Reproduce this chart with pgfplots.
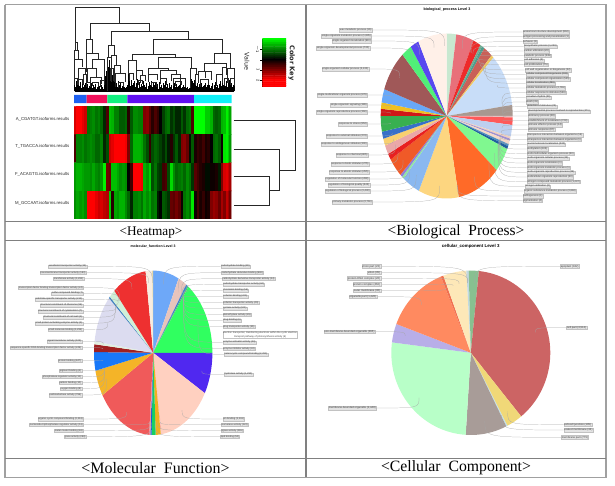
\documentclass[border=0pt]{standalone}
\usepackage{fontspec}
\usepackage{pgfplots}
\pgfplotsset{compat=1.18}
\setmainfont{Liberation Sans}
\newfontfamily\serifT{Liberation Serif}
\newfontfamily\djv{DejaVu Sans}
\definecolor{framegray}{HTML}{A0A0A0}
\definecolor{ruleg}{HTML}{808080}
\pgfplotsset{
 gkr/.style={colormap={gkr}{rgb255=(0,255,0) rgb255=(0,0,0) rgb255=(255,0,0)},point meta min=-2,point meta max=2},
 pieaxis/.style={scale only axis,hide axis,clip=false,xmin=-1,xmax=1,ymin=-1,ymax=1,anchor=center}
}
% one wedge of a pie: start angle, end angle (degrees clockwise from the top), colour
\newcommand\sector[3]{%
 \definecolor{c#3}{HTML}{#3}%
 \gdef\pts{(0,0)}%
 \pgfmathtruncatemacro\nn{max(1,ceil((#2-#1)/3))}%
 \foreach \kk in {0,...,\nn}{%
  \pgfmathsetmacro\secA{#1+(#2-#1)*\kk/\nn}%
  \pgfmathsetmacro\spx{sin(\secA)}\pgfmathsetmacro\spy{cos(\secA)}%
  \xdef\pts{\pts (\spx,\spy)}}%
 \edef\tmp{\noexpand\addplot[fill=c#3,draw=none,forget plot] coordinates {\pts (0,0)};}%
 \tmp}
% one link of a dendrogram: x1, x2, top, height of left leg, height of right leg
\newcommand\DU[5]{\addplot[black!85,line width=.42bp,forget plot] coordinates {(#1,#4)(#1,#3)(#2,#3)(#2,#5)};}
\newcommand\Seg[3]{\addplot[fill=#3,draw=none,forget plot] coordinates {(#1,95)(#2,95)(#2,103.2)(#1,103.2)(#1,95)};}
\newcommand\Ln[4]{\addplot[ruleg,line width=1.1bp,forget plot] coordinates {(#1,#2)(#3,#4)};}
\newcommand\Lk[1]{\addplot[black!85,line width=.5bp,forget plot] coordinates {#1};}
\tikzset{lab/.style={font=\fontsize{2.6}{3}\selectfont,fill=black!11,draw=black!24,line width=.15bp,inner sep=.45bp,text=black!75},
 leader/.style={draw=black!35,line width=.22bp}}
\newcommand\lab[5]{\draw[leader] (#2,#3) .. controls ({\cx+\rx*.85*sin(#4)},#3) .. ({\cx+\rx*.85*sin(#4)},{\cy-\ry*.85*cos(#4)});\node[lab,anchor=#1] at (#2,#3) {#5};}
\begin{document}
\begin{tikzpicture}
\path (0,0) rectangle (615bp,486bp);
% frame, colour strip and row dendrogram, in pixel units
\begin{axis}[at={(0,0)},anchor=south west,scale only axis,width=615bp,height=486bp,hide axis,clip=false,xmin=0,xmax=615,ymin=0,ymax=486,y dir=reverse]
\definecolor{sa}{HTML}{1E60F0}\definecolor{sb}{HTML}{F0105A}\definecolor{sc}{HTML}{10F080}\definecolor{sd}{HTML}{6010F0}\definecolor{se}{HTML}{10F0F8}
\Seg{74}{86.5}{sa}\Seg{86.5}{107.3}{sb}\Seg{107.3}{127.3}{sc}\Seg{127.3}{194}{sd}\Seg{194}{231.5}{se}
\Lk{(233.5,120.7)(295.7,120.7)(295.7,170)(279.3,170)}
\Lk{(233.5,149)(279.3,149)(279.3,190.7)(269.3,190.7)}
\Lk{(233.5,176.7)(269.3,176.7)(269.3,205)(233.5,205)}
\addplot[framegray,line width=1.5bp,forget plot] coordinates {(5,4.7)(605.8,4.7)(605.8,477.3)(5,477.3)(5,4.7)};
\Ln{306}{4.7}{306}{477.3}
\Ln{5}{221.6}{605.8}{221.6}
\Ln{5}{240.2}{605.8}{240.2}
\Ln{5}{458.3}{605.8}{458.3}
\end{axis}
% heatmap
\begin{axis}[at={(74bp,267bp)},anchor=south west,scale only axis,width=157.5bp,height=112.5bp,hide axis,xmin=-0.5,xmax=58.5,ymin=-0.5,ymax=3.5,y dir=reverse,gkr]
\addplot[matrix plot*,mesh/cols=59,mesh/ordering=x varies,point meta=explicit] table[header=false,row sep=\\,x expr={\coordindex-59*floor((\coordindex+0.5)/59)},y expr={floor((\coordindex+0.5)/59)},meta index=0] {
1.7\\2\\2\\1.8\\1.6\\-0.9\\-1\\-1.1\\-0.9\\-1\\-0.8\\-0.3\\0.6\\-1.5\\-1.4\\-1\\-1\\-0.7\\-0.7\\-0.8\\0.3\\-0.7\\-1.1\\-1.1\\-1\\-1\\1\\1.1\\0.7\\0.3\\0.6\\0.4\\0\\-0.5\\-0.8\\-0.9\\-0.4\\-0.6\\-0.3\\-0.3\\-0.7\\-0.4\\-0.8\\-0.9\\0.6\\-2\\-2\\-2\\-2\\-1.6\\-1.6\\-1.4\\-0.8\\-0.7\\-0.8\\-1.4\\-1.5\\-1.9\\-1.3\\
0.6\\-1\\-1\\-1.1\\-0.9\\-1\\-1.1\\-1\\-0.8\\-0.8\\-1\\-0.3\\-0.6\\1.6\\1.8\\2\\2\\2\\2\\1.9\\1\\-0.8\\-1.4\\-1.4\\-1.4\\-1.3\\-0.9\\-0.6\\0.4\\-0.6\\-0.8\\-0.7\\-0.5\\-0.3\\-0.6\\-0.2\\0.3\\-0.4\\-0.7\\-0.3\\1\\1.1\\0.8\\-0.1\\-0.7\\0.2\\0.4\\0.3\\0.5\\0.2\\0.3\\0\\-0.8\\-0.9\\-0.7\\0.1\\-1.8\\-1.9\\-1.2\\
-1.2\\-1.4\\-1.4\\-1.3\\-1.2\\-1.2\\-1.1\\-1.3\\-1.1\\-1\\-1.2\\-1.9\\0.9\\0.8\\-1.5\\-1.5\\-1.3\\-1.1\\-1.2\\-1.1\\0\\0.5\\2\\2\\2\\1.9\\-1.4\\-1.2\\-1.6\\-0.6\\-0.9\\-0.5\\-0.4\\0.5\\0.6\\-0.6\\-1.7\\-1.1\\-0.8\\-0.9\\-1\\-0.8\\-1.1\\-0.9\\-0.4\\0.7\\0.5\\0.3\\0.2\\-0.1\\-0.1\\0.1\\0.1\\0.2\\-0.2\\1\\1.7\\1.8\\1.3\\
-1.1\\-1.3\\-1.2\\-1.3\\-1.1\\2\\2\\2\\1.8\\1.6\\1.7\\1.5\\1.4\\-1.6\\0.3\\-1.3\\-1.2\\-1.4\\-1.4\\-1.1\\-0.8\\-0.3\\-1\\-1\\-1.1\\-0.9\\-1.3\\-1.1\\-1.3\\-0.9\\-1\\-0.2\\0\\-0.7\\-0.6\\-0.4\\0.8\\0.7\\0.9\\0.7\\0.1\\-0.9\\-1.1\\-0.9\\-1.8\\0.1\\0.5\\0.2\\0.4\\0.1\\0.2\\1\\1.2\\1.1\\0.8\\1.3\\1\\1.5\\0.9\\
};
\end{axis}
% colour key
\begin{axis}[at={(262.3bp,399.3bp)},anchor=south west,scale only axis,width=23.7bp,height=47.7bp,axis x line=none,axis y line=left,axis line style={-,black,line width=.3bp},tick style={black,line width=.3bp},tick align=outside,major tick length=2bp,xmin=0,xmax=1,ymin=-2,ymax=2.6,y dir=reverse,gkr,ytick={-1,0,1,2},yticklabels={$-$1,,1,2},yticklabel style={rotate=-90,font=\fontsize{4}{4}\selectfont,inner sep=.6bp}]
\addplot[matrix plot*,mesh/cols=2,mesh/ordering=x varies,point meta=explicit] table[header=false,row sep=\\,x expr={\coordindex-2*floor((\coordindex+0.5)/2)},y index=0,meta index=0] {
-2\\-2\\-1.8\\-1.8\\-1.6\\-1.6\\-1.4\\-1.4\\-1.2\\-1.2\\-1\\-1\\-0.8\\-0.8\\-0.6\\-0.6\\-0.4\\-0.4\\-0.2\\-0.2\\0\\0\\0.2\\0.2\\0.4\\0.4\\0.6\\0.6\\0.8\\0.8\\1\\1\\1.2\\1.2\\1.4\\1.4\\1.6\\1.6\\1.8\\1.8\\2\\2\\2.2\\2.2\\2.4\\2.4\\2.6\\2.6\\
};
\end{axis}
% column dendrogram
\begin{axis}[at={(70bp,394.7bp)},anchor=south west,scale only axis,width=165bp,height=89.3bp,hide axis,clip=false,xmin=0,xmax=495,ymin=0,ymax=268]
\addplot[ycomb,black,line width=.6bp,forget plot] table[header=false,row sep=\\,x expr={14+2.5*\coordindex},y index=0] {
40\\12\\30\\18\\25\\8\\16\\28\\10\\22\\14\\6\\20\\26\\18\\22\\10\\16\\6\\14\\24\\10\\18\\8\\12\\22\\6\\14\\20\\10\\16\\8\\18\\12\\6\\20\\30\\45\\60\\50\\72\\40\\95\\70\\55\\48\\32\\60\\25\\18\\25\\14\\30\\20\\12\\24\\10\\16\\22\\8\\14\\10\\12\\20\\60\\28\\40\\16\\34\\18\\26\\12\\30\\14\\24\\36\\10\\20\\28\\12\\22\\16\\30\\10\\18\\14\\24\\8\\16\\28\\12\\20\\30\\14\\24\\10\\18\\26\\12\\22\\8\\16\\28\\14\\20\\10\\24\\12\\18\\30\\14\\22\\10\\16\\26\\12\\20\\8\\18\\24\\10\\14\\22\\12\\16\\8\\20\\26\\10\\14\\18\\8\\12\\20\\10\\14\\6\\10\\8\\50\\38\\30\\24\\34\\20\\28\\16\\24\\14\\22\\10\\18\\26\\12\\16\\20\\10\\24\\14\\18\\28\\12\\20\\10\\16\\24\\8\\14\\20\\28\\12\\18\\10\\22\\14\\30\\16\\40\\20\\12\\24\\16\\30\\14\\24\\10\\34\\18\\26\\12\\20\\30\\
};
\addplot[black,line width=.8bp,forget plot] coordinates {(14,0)(492,0)};
\DU{15}{148}{252}{146}{205}\DU{60}{238}{205}{156}{180}\DU{124}{355}{180}{138}{156}\DU{250}{458}{156}{110}{115}
\DU{188}{316}{110}{92}{103}\DU{265}{365}{103}{70}{68}\DU{432}{482}{115}{83}{68}\DU{402}{468}{83}{60}{73}
\DU{15}{22}{146}{123}{123}\DU{14}{24}{123}{96}{96}\DU{14}{36}{96}{40}{73}\DU{26}{46}{70}{36}{50}\DU{22}{38}{36}{18}{23}\DU{14}{24}{40}{20}{18}\DU{40}{50}{50}{20}{25}
\DU{50}{68}{156}{113}{113}\DU{50}{85}{113}{58}{96}\DU{66}{104}{96}{68}{33}\DU{52}{78}{68}{28}{43}\DU{62}{95}{43}{28}{23}\DU{50}{60}{28}{12}{14}\DU{68}{85}{28}{16}{12}\DU{90}{102}{33}{12}{18}
\DU{115}{133}{138}{103}{108}\DU{112}{125}{103}{0}{28}\DU{125}{140}{108}{78}{78}\DU{132}{150}{78}{28}{53}\DU{137}{165}{53}{13}{28}\DU{120}{130}{70}{30}{30}\DU{146}{160}{28}{10}{14}
\DU{175}{198}{92}{53}{63}\DU{178}{190}{53}{30}{35}\DU{198}{218}{63}{33}{48}\DU{205}{218}{33}{18}{22}\DU{212}{225}{48}{25}{30}
\DU{235}{295}{70}{50}{63}\DU{235}{262}{50}{28}{35}\DU{270}{320}{63}{40}{52}\DU{245}{258}{28}{15}{12}\DU{272}{290}{40}{22}{18}\DU{305}{330}{52}{30}{22}\DU{310}{345}{40}{15}{12}\DU{315}{335}{30}{15}{18}
\DU{362}{378}{68}{10}{50}\DU{375}{385}{50}{20}{30}\DU{385}{425}{60}{25}{35}\DU{405}{425}{60}{40}{40}\DU{390}{415}{35}{12}{18}\DU{440}{458}{50}{15}{25}\DU{458}{468}{73}{40}{50}\DU{462}{475}{40}{15}{25}\DU{472}{492}{68}{25}{38}\DU{480}{492}{38}{18}{15}
\end{axis}
% Biological process
\begin{axis}[pieaxis,at={(446.7bp,370bp)},width=132bp,height=165bp]
\sector{0}{8.4}{C8E8D0}\sector{8.4}{24}{E8707A}\sector{24}{30.7}{EE2A2A}\sector{30.7}{32.5}{70B090}\sector{32.5}{34.8}{4F9E8E}\sector{34.8}{42.8}{C96058}\sector{42.8}{45}{F0C860}\sector{45}{82.3}{C8DDF8}\sector{82.3}{90}{A89890}\sector{90}{91}{E8C0C0}\sector{91}{96.3}{FF5A5A}\sector{96.3}{104.5}{BDD0F0}\sector{104.5}{106}{F0D0C0}\sector{106}{107.5}{A090D0}\sector{107.5}{110}{F5D8C8}\sector{110}{111.5}{5090C0}\sector{111.5}{113.6}{2060A0}\sector{113.6}{131}{80F890}\sector{131}{169.5}{FF6A28}\sector{169.5}{205}{FDD680}\sector{205}{220.8}{8AB8F0}\sector{220.8}{222.5}{90E8A0}\sector{222.5}{224.5}{9080D8}\sector{224.5}{238.2}{F05A28}\sector{238.2}{242.6}{E82020}\sector{242.6}{249}{EAA8A8}\sector{249}{254}{F8D070}\sector{254}{259}{3870C8}\sector{259}{270}{38B050}\sector{270}{275}{D01818}\sector{275}{279.5}{F0C020}\sector{279.5}{289}{68A8F8}\sector{289}{318}{A05858}\sector{318}{327}{50F078}\sector{327}{334.6}{5848F0}\sector{334.6}{360}{FFF0E8}
\end{axis}
% Molecular function
\begin{axis}[pieaxis,at={(153.2bp,133.2bp)},width=118.4bp,height=164.4bp]
\sector{0}{25.4}{6EA8F8}\sector{25.4}{33.9}{E8C4BC}\sector{33.9}{35.5}{4080D0}\sector{35.5}{36.6}{60B080}\sector{36.6}{90}{30FF60}\sector{90}{119.4}{5028F0}\sector{119.4}{171.8}{FFD0C0}\sector{171.8}{172.6}{F8B0B0}\sector{172.6}{177.6}{F0B020}\sector{177.6}{181.5}{18D060}\sector{181.5}{182.8}{1060D0}\sector{182.8}{184}{F090A0}\sector{184}{239}{F05A5A}\sector{239}{257.4}{F4B428}\sector{257.4}{270.5}{1878F8}\sector{270.5}{276}{A02020}\sector{276}{278}{E0F0E0}\sector{278}{311.7}{DCDCF0}\sector{311.7}{313}{4080C0}\sector{313}{319}{D0F0D8}\sector{319}{352.6}{EE3030}\sector{352.6}{359}{F8ECE0}\sector{359}{360}{E8D8A8}
\end{axis}
% Cellular component
\begin{axis}[pieaxis,at={(470.8bp,133.2bp)},width=159bp,height=164.4bp]
\sector{0}{5.8}{88C090}\sector{5.8}{140.7}{CC6464}\sector{140.7}{152.6}{F0D878}\sector{152.6}{153.5}{C0E0E8}\sector{153.5}{183.7}{A89C98}\sector{183.7}{277.3}{B8FFC8}\sector{277.3}{290.5}{B8AEE8}\sector{290.5}{337.9}{FF8A60}\sector{337.9}{339.8}{F07050}\sector{339.8}{356.8}{FDE8B8}\sector{356.8}{358.5}{C0D8E0}\sector{358.5}{360}{88C090}
\end{axis}
\begin{scope}[x=1bp,y=-1bp,yshift=486bp]
% titles
\node[font=\serifT\fontsize{13.3}{14}\selectfont] at (151,232.5) {<Heatmap>};
\node[font=\serifT\fontsize{15.5}{16}\selectfont] at (456,232) {<Biological\ \ Process>};
\node[font=\serifT\fontsize{16}{17}\selectfont] at (155.5,468) {<Molecular\ \ Function>};
\node[font=\serifT\fontsize{15.8}{16}\selectfont] at (456,468) {<Cellular\ \ Component>};
\node[font=\bfseries\fontsize{3.7}{4}\selectfont] at (447,10) {biological\_process Level 3};
\node[font=\bfseries\fontsize{3.5}{4}\selectfont] at (153,246.7) {molecular\_function Level 3};
\node[font=\bfseries\fontsize{4.4}{5}\selectfont] at (470.7,246.7) {cellular\_component Level 3};
% heatmap labels
\foreach \y/\t in {119.3/A\_CGATGT,146.7/T\_TGACCA,174.7/F\_ACAGTG,203/M\_GCCAAT}
 \node[font=\fontsize{4.3}{5}\selectfont,anchor=east,inner sep=0pt,text=black!85] at (69.5,\y) {\t.isoforms.results};
\node[font=\djv\bfseries\fontsize{6.6}{7}\selectfont,rotate=-90,text=black!85] at (291.7,63) {Color Key};
\node[font=\djv\fontsize{6.4}{7}\selectfont,rotate=-90,text=black!85] at (247,61.7) {Value};
% labels of Biological process
\def\cx{446.7}\def\cy{116}\def\rx{66}\def\ry{82.5}
\lab{east}{372}{30}{358}{wax metabolic process (16)}
\lab{east}{371.3}{36}{347}{single-organism metabolic process (1,895)}
\lab{east}{371.3}{41}{331}{single-organism localization (611)}
\lab{east}{369.7}{48}{322}{single-organism developmental process (730)}
\lab{east}{368.7}{69}{303}{single-organism cellular process (2,130)}
\lab{east}{367.3}{95}{284}{single-multicellular organism process (679)}
\lab{east}{367.3}{105}{277}{single-organism signaling (389)}
\lab{east}{367.3}{112}{272}{single-organism reproductive process (360)}
\lab{east}{367.3}{124}{264}{response to stress (853)}
\lab{east}{367.3}{136}{256}{response to external stimulus (274)}
\lab{east}{367.3}{144}{251}{response to endogenous stimulus (300)}
\lab{east}{368}{155}{246}{response to chemical (805)}
\lab{east}{369}{164}{240}{response to biotic stimulus (275)}
\lab{east}{369}{172}{231}{response to abiotic stimulus (255)}
\lab{east}{369}{179}{223}{regulation of molecular function (288)}
\lab{east}{369.7}{185}{221}{regulation of biological quality (343)}
\lab{east}{370.3}{191}{213}{regulation of biological process (3,430)}
\lab{east}{372.3}{202}{187}{primary metabolic process (3,761)}
\lab{west}{522.7}{32}{16}{anatomical structure development (860)}
\lab{west}{522.7}{36.7}{25}{antigen processing and presentation (1)}
\lab{west}{522.7}{41.7}{26}{behavior (3)}
\lab{west}{523.7}{46.3}{28}{biosynthetic process (1,249)}
\lab{west}{523.7}{51}{31}{carbon utilization (20)}
\lab{west}{523.7}{55.7}{32}{catabolic process (539)}
\lab{west}{523.7}{60.3}{33}{cell adhesion (6)}
\lab{west}{523.7}{64.7}{34}{cell proliferation (75)}
\lab{west}{524.7}{70}{36}{cell wall organization or biogenesis (32)}
\lab{west}{525.7}{74.3}{39}{cellular component biogenesis (236)}
\lab{west}{525.7}{79}{41}{cellular component organization (535)}
\lab{west}{525.7}{83.3}{44}{cellular localization (499)}
\lab{west}{525.7}{88}{64}{cellular metabolic process (2,765)}
\lab{west}{525.7}{92.7}{80}{cellular response to stimulus (536)}
\lab{west}{525.7}{97.3}{84}{circadian rhythm (30)}
\lab{west}{525.7}{102}{86}{death (31)}
\lab{west}{526.7}{106.3}{88}{detection of stimulus (25)}
\lab{west}{527.7}{111.3}{90}{developmental process involved in reproduction (371)}
\lab{west}{527.7}{116}{91}{dormancy process (28)}
\lab{west}{527.7}{120.7}{94}{establishment of localization (729)}
\lab{west}{527.7}{125}{100}{immune effector process (14)}
\lab{west}{527.7}{129.7}{104}{immune response (87)}
\lab{west}{526.7}{135}{105}{interspecies interaction between organisms (16)}
\lab{west}{526.7}{139.7}{106}{intraspecies interaction between organisms (1)}
\lab{west}{526.7}{144.3}{107}{macromolecule localization (230)}
\lab{west}{526.7}{149}{108}{methylation (103)}
\lab{west}{526.7}{153.7}{109}{multi-multicellular organism process (50)}
\lab{west}{526.7}{158.3}{110}{multi-organism cellular process (24)}
\lab{west}{526.7}{163}{111}{multi-organism localization (1)}
\lab{west}{526.7}{167.7}{112}{multi-organism metabolic process (1)}
\lab{west}{526.7}{172.3}{113}{multi-organism reproductive process (89)}
\lab{west}{526.7}{177}{114}{multicellular organism reproduction (50)}
\lab{west}{526.7}{181.7}{122}{nitrogen compound metabolic process (1,297)}
\lab{west}{524.7}{186.3}{131}{nitrogen utilization (2)}
\lab{west}{523.7}{191}{150}{organic substance metabolic process (3,884)}
\lab{west}{522.7}{196}{169}{pathogenesis (1)}
\lab{west}{522.7}{200.7}{169}{pigmentation (4)}
% labels of Molecular function
\tikzset{lab/.append style={font=\fontsize{2.5}{3}\selectfont}}
\def\cx{153.2}\def\cy{352.8}\def\rx{59.2}\def\ry{82.2}
\lab{east}{86.7}{266.3}{359}{xenobiotic transporter activity (33)}
\lab{east}{86}{272.7}{355}{transmembrane transporter activity (180)}
\lab{east}{83.7}{278.7}{335}{transferase activity (1,281)}
\lab{east}{83.3}{287.7}{318}{transcription factor binding transcription factor activity (24)}
\lab{east}{83.3}{293.3}{317}{sulfur compound binding (7)}
\lab{east}{82.7}{299.3}{316}{substrate-specific transporter activity (212)}
\lab{east}{82.7}{305.3}{315}{structural constituent of ribosome (59)}
\lab{east}{82.7}{311.3}{313}{structural constituent of cytoskeleton (7)}
\lab{east}{82.7}{317.3}{312}{structural constituent of cell wall (4)}
\lab{east}{82.7}{323.3}{311}{small protein activating enzyme activity (4)}
\lab{east}{82.7}{329.7}{295}{small molecule binding (1,295)}
\lab{east}{81.7}{341.3}{277}{signal transducer activity (103)}
\lab{east}{81.7}{347.7}{273}{sequence-specific DNA binding transcription factor activity (246)}
\lab{east}{81.7}{360.7}{264}{protein binding (847)}
\lab{east}{81.7}{370.7}{258}{pigment binding (4)}
\lab{east}{81.7}{376.7}{257}{phosphatase regulator activity (12)}
\lab{east}{81.7}{382.7}{256}{pattern binding (10)}
\lab{east}{81.7}{388.7}{255}{oxygen binding (8)}
\lab{east}{81.7}{395}{248}{oxidoreductase activity (786)}
\lab{east}{83.3}{419}{212}{organic cyclic compound binding (2,261)}
\lab{east}{83.3}{424.7}{184}{nucleoside-triphosphatase regulator activity (51)}
\lab{east}{83.3}{430.7}{183}{metal cluster binding (46)}
\lab{east}{86}{436.7}{182}{lyase activity (288)}
\lab{west}{220.7}{266.3}{12}{carbohydrate binding (80)}
\lab{west}{221.3}{272.7}{30}{carbohydrate derivative binding (982)}
\lab{west}{222}{278.7}{34}{carbohydrate derivative transporter activity (24)}
\lab{west}{222.7}{284.3}{35}{carbohydrate transporter activity (84)}
\lab{west}{222.7}{290.3}{36}{chromatin binding (56)}
\lab{west}{222.7}{296.3}{36.3}{cofactor binding (221)}
\lab{west}{222.7}{302.7}{36.5}{cofactor transporter activity (40)}
\lab{west}{222.7}{308.3}{37}{cyclase activity (121)}
\lab{west}{222.7}{314.7}{37}{demethylase activity (45)}
\lab{west}{222.7}{320.3}{37}{drug binding (6)}
\lab{west}{222.7}{326.7}{37}{drug transporter activity (35)}
\lab{west}{222.7}{342.3}{37}{enzyme activator activity (46)}
\lab{west}{222.7}{348.7}{37}{enzyme inhibitor activity (32)}
\lab{west}{224}{354.3}{63}{heterocyclic compound binding (2,291)}
\lab{west}{224}{374.3}{105}{hydrolase activity (1,290)}
\lab{west}{222.7}{419}{145}{ion binding (2,161)}
\lab{west}{221}{424.7}{172}{isomerase activity (122)}
\lab{west}{221}{430.7}{175}{ligase activity (265)}
\lab{west}{220.3}{436.7}{178}{lipid binding (50)}
\node[lab,anchor=west,fill=white,align=center,font=\fontsize{2.5}{3.4}\selectfont] at (222.7,334.7) {electron transporter, transferring electrons within the cyclic electron\\transport pathway of photosynthesis activity (6)};
% labels of Cellular component
\tikzset{lab/.append style={font=\fontsize{2.8}{3.2}\selectfont}}
\def\cx{470.8}\def\cy{352.8}\def\rx{79.5}\def\ry{82.2}
\lab{east}{380.7}{266.3}{357}{virion part (23)}
\lab{east}{380.7}{272.7}{357.5}{virion (35)}
\lab{east}{380.7}{278.3}{350}{protein-DNA complex (26)}
\lab{east}{380.7}{284.3}{345}{protein complex (462)}
\lab{east}{380.7}{290.7}{339}{outer membrane (36)}
\lab{east}{376.7}{296.7}{313}{organelle part (1,226)}
\lab{east}{375}{331.7}{284}{non-membrane-bounded organelle (365)}
\lab{east}{376.3}{408}{230}{membrane-bounded organelle (2,448)}
\lab{west}{560.3}{266.3}{3}{apoplast (182)}
\lab{west}{566.3}{327.7}{73}{cell part (3,513)}
\lab{west}{563.7}{424.7}{147}{cell-cell junction (105)}
\lab{west}{563.7}{430}{153}{coated membrane (34)}
\lab{west}{561.3}{437.3}{168}{membrane part (775)}
\end{scope}
\end{tikzpicture}
\end{document}
